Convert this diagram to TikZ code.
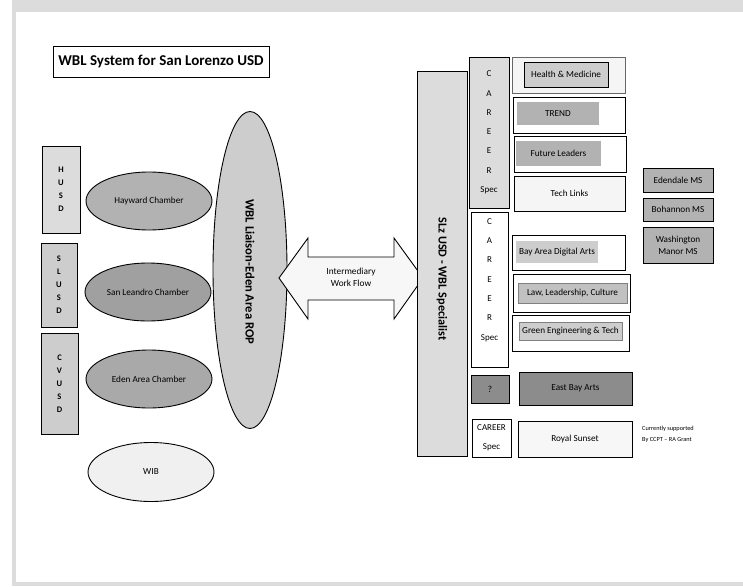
\documentclass[tikz,border=0pt]{standalone}
\usepackage{fontspec}
\setmainfont{Carlito}
\usetikzlibrary{shapes.geometric}
\definecolor{paleg}{HTML}{DCDCDC}
\definecolor{lightg}{HTML}{CDCDCD}
\definecolor{midg}{HTML}{B2B2B2}
\definecolor{darkg}{HTML}{8C8C8C}
\tikzstyle{box}=[draw, line width=0.9pt, inner sep=0, font=\fontsize{9.2}{10}\selectfont, align=center]
\tikzstyle{chamber}=[draw, line width=0.9pt, ellipse, inner sep=0, font=\fontsize{9.2}{10}\selectfont]
\tikzstyle{letters}=[font=\fontsize{9}{19.3}\selectfont, align=center]
\tikzstyle{district}=[box, font=\bfseries\fontsize{8.5}{13}\selectfont]

\begin{document}
\begin{tikzpicture}[x=1pt, y=-1pt]
      \useasboundingbox (0,0) rectangle (743,586);
      % scanned page edge
      \fill[paleg] (12,0) rectangle (743,12);
      \fill[paleg] (12,12) rectangle (16,586);
      \fill[paleg] (16,582) rectangle (743,586);

      \node[box, minimum width=216, minimum height=31, font=\bfseries\fontsize{15}{17}\selectfont] (title) at (161,61.5) {WBL System for San Lorenzo USD};

      \node[district, fill=paleg, minimum width=38, minimum height=87] (husd) at (61,189.5) {H\\U\\S\\D};
      \node[district, fill=lightg, minimum width=36, minimum height=84] (slusd) at (59,285) {S\\L\\U\\S\\D};
      \node[district, fill=lightg, minimum width=37, minimum height=101] (cvusd) at (59.5,383.5) {C\\V\\U\\S\\D};

      \node[chamber, fill=midg, minimum width=126, minimum height=58] (hayward) at (149,201) {Hayward Chamber};
      \node[chamber, fill=midg!90!black, minimum width=126, minimum height=58] (leandro) at (148,292) {San Leandro Chamber};
      \node[chamber, fill=midg!95!black, minimum width=126, minimum height=58] (eden) at (149,379) {Eden Area Chamber};
      \node[chamber, fill=white!94!black, minimum width=126, minimum height=59] (wib) at (151,472) {WIB};

      \node[chamber, fill=lightg, minimum width=74, minimum height=317] (rop) at (250,270) {};
      \node[rotate=-90, font=\bfseries\fontsize{12.6}{14}\selectfont] at (250,272) {WBL Liaison-Eden Area ROP};

      % intermediary arrow
      \draw[line width=0.9pt, fill=white!97!black] (279,278) -- (308,238) -- (308,257) -- (394,257) -- (394,238)
            -- (423,278) -- (394,319) -- (394,300) -- (308,300) -- (308,319) -- cycle;
      \node[align=center, font=\fontsize{9.3}{12}\selectfont] (flow) at (351,277) {Intermediary\\Work Flow};

      \node[box, fill=paleg, minimum width=50, minimum height=385] (slz) at (442,263.5) {};
      \node[rotate=-90, font=\bfseries\fontsize{12.2}{14}\selectfont] at (442,279) {SLz USD - WBL Specialist};

      \node[box, fill=paleg, minimum width=40, minimum height=151] (career1) at (489,132.5) {};
      \node[letters] at (489,132.5) {C\\A\\R\\E\\E\\R\\Spec};
      \node[box, fill=white, minimum width=37, minimum height=155] (career2) at (489.5,289.5) {};
      \node[letters] at (489.5,280) {C\\A\\R\\E\\E\\R\\Spec};
      \node[box, fill=darkg, minimum width=38, minimum height=28] (unknown) at (490,389) {?};
      \node[box, fill=white, minimum width=39, minimum height=38, font=\fontsize{9}{19}\selectfont] (career3) at (491.5,438) {CAREER\\Spec};

      % programs
      \node[box, draw=black!60, thin, fill=white!96!black, minimum width=113, minimum height=36] (health) at (568.5,75) {};
      \node[box, thin, fill=lightg, minimum width=84, minimum height=25] at (566,74.5) {Health \& Medicine};
      \node[box, fill=white, minimum width=112, minimum height=36] (trend) at (569,115) {};
      \node[box, draw=none, fill=midg, minimum width=82, minimum height=23] at (558,113.5) {TREND};
      \node[box, fill=white, minimum width=112, minimum height=36] (future) at (570,154) {};
      \node[box, draw=none, fill=midg, minimum width=85, minimum height=25] at (558.5,153.5) {Future Leaders};
      \node[box, fill=white!96!black, minimum width=111, minimum height=35] (tech) at (569.5,193.5) {Tech Links};
      \node[box, fill=white, minimum width=113, minimum height=35] (digital) at (568.5,252.5) {};
      \node[box, draw=none, fill=lightg, minimum width=82, minimum height=22] at (557,252) {Bay Area Digital Arts};
      \node[box, fill=white, minimum width=117, minimum height=38] (law) at (571.5,293) {};
      \node[box, draw=black!50, thin, fill=midg!80!white, minimum width=109, minimum height=20] at (572.5,293) {Law, Leadership, Culture};
      \node[box, fill=white, minimum width=117, minimum height=36] (green) at (570.5,333) {};
      \node[box, draw=black!50, thin, fill=lightg, minimum width=103, minimum height=18] at (570.5,331) {Green Engineering \& Tech};
      \node[box, fill=darkg, minimum width=113, minimum height=33] (eastbay) at (575.5,388.5) {East Bay Arts};
      \node[box, fill=white!97!black, minimum width=114, minimum height=36] (royal) at (575,439) {Royal Sunset};
      \node[anchor=west, align=left, inner sep=0, font=\fontsize{6.3}{11}\selectfont] (note) at (642,434.5) {Currently supported\\By CCPT -- RA Grant};

      % middle schools
      \node[box, fill=midg, minimum width=70, minimum height=24] (edendale) at (678,180) {Edendale MS};
      \node[box, fill=midg, minimum width=70, minimum height=23] (bohannon) at (678,209.5) {Bohannon MS};
      \node[box, fill=midg, minimum width=70, minimum height=36, font=\fontsize{9.2}{12}\selectfont] (washington) at (678,245) {Washington\\Manor MS};
    \end{tikzpicture}
\end{document}
